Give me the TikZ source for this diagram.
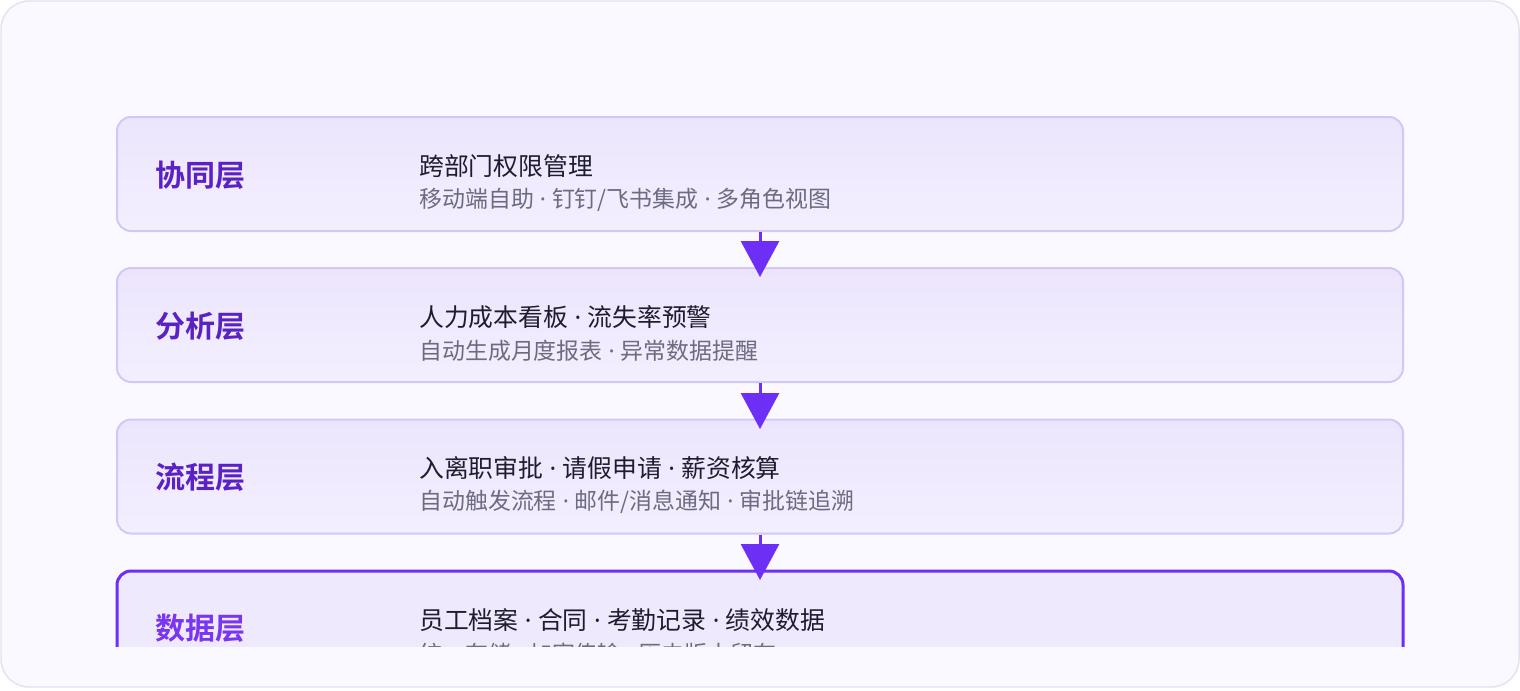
\documentclass[tikz,border=0pt]{standalone}
\usepackage{fontspec}
\usetikzlibrary{arrows.meta,shadings}
\newfontfamily\cjk{Noto Sans CJK SC}
\newfontfamily\cjkb{Noto Sans CJK SC Bold}
\newfontfamily\latf{Noto Sans}
\newcommand\dsep{{\latf\ ·\ }}
\definecolor{bgfill}{HTML}{FAF9FF}
\definecolor{bgline}{HTML}{E4E1F3}
\definecolor{boxline}{HTML}{D3C7F8}
\definecolor{boxtop}{HTML}{ECE5FD}
\definecolor{boxbot}{HTML}{F3EFFE}
\definecolor{accent}{HTML}{6D2EF5}
\definecolor{accfill}{HTML}{EFE9FE}
\definecolor{titlec}{HTML}{5A22C4}
\definecolor{titleacc}{HTML}{7A35F0}
\definecolor{maintext}{HTML}{1F1C2E}
\definecolor{subtext}{HTML}{6E6B80}
\tikzset{
  layer/.style={rounded corners=10.5pt, draw=boxline, line width=1.5pt,
    top color=boxtop, bottom color=boxbot, minimum width=964.5pt,
    minimum height=85.5pt, inner sep=0pt},
  layeracc/.style={rounded corners=10.5pt, draw=accent, line width=2.25pt,
    fill=accfill, minimum width=964.5pt, minimum height=85.5pt, inner sep=0pt},
  ttl/.style={anchor=west, inner sep=0pt, font=\cjkb\fontsize{22.5pt}{25pt}\selectfont, text=titlec},
  ttlacc/.style={ttl, text=titleacc},
  mainline/.style={anchor=west, inner sep=0pt, font=\cjk\fontsize{18.6pt}{21pt}\selectfont, text=maintext},
  subline/.style={anchor=west, inner sep=0pt, font=\cjk\fontsize{17.2pt}{19pt}\selectfont, text=subtext},
  flow/.style={draw=accent, line width=2.25pt, -{Triangle[width=28.5pt,length=27pt]}}
}
\begin{document}
\begin{tikzpicture}[x=0.75pt,y=-0.75pt]
\useasboundingbox (0,0) rectangle (1520,690);
\draw[fill=bgfill, draw=bgline, line width=1.1pt, rounded corners=21pt] (1,1) rectangle (1519,687);
\begin{scope}
\clip (0,0) rectangle (1520,646);
% boxes
\node[layer] (b1) at (760,174) {};
\node[layer] (b2) at (760,325) {};
\node[layer] (b3) at (760,476.5) {};
\node[layeracc] (b4) at (760,628) {};
% titles
\node[ttl] (t1) at (155,175) {协同层};
\node[ttl] (t2) at (155,326) {分析层};
\node[ttl] (t3) at (155,477) {流程层};
\node[ttlacc] (t4) at (155,628) {数据层};
% main lines
\node[mainline] (m1) at (419,166) {跨部门权限管理};
\node[mainline] (m2) at (419,317) {人力成本看板\dsep 流失率预警};
\node[mainline] (m3) at (419,468) {入离职审批\dsep 请假申请\dsep 薪资核算};
\node[mainline] (m4) at (419,620) {员工档案\dsep 合同\dsep 考勤记录\dsep 绩效数据};
% sub lines
\node[subline] (s1) at (419,200) {移动端自助\dsep 钉钉/飞书集成\dsep 多角色视图};
\node[subline] (s2) at (419,351) {自动生成月度报表\dsep 异常数据提醒};
\node[subline] (s3) at (419,502) {自动触发流程\dsep 邮件/消息通知\dsep 审批链追溯};
\node[subline] (s4) at (419,654) {统一存储\dsep 加密传输\dsep 历史版本留存};
% arrows
\coordinate (e2) at (760,277);
\coordinate (e3) at (760,429);
\coordinate (e4) at (760,580);
\draw[flow] (b1.south) -- (e2);
\draw[flow] (b2.south) -- (e3);
\draw[flow] (b3.south) -- (e4);
\end{scope}
\end{tikzpicture}
\end{document}
